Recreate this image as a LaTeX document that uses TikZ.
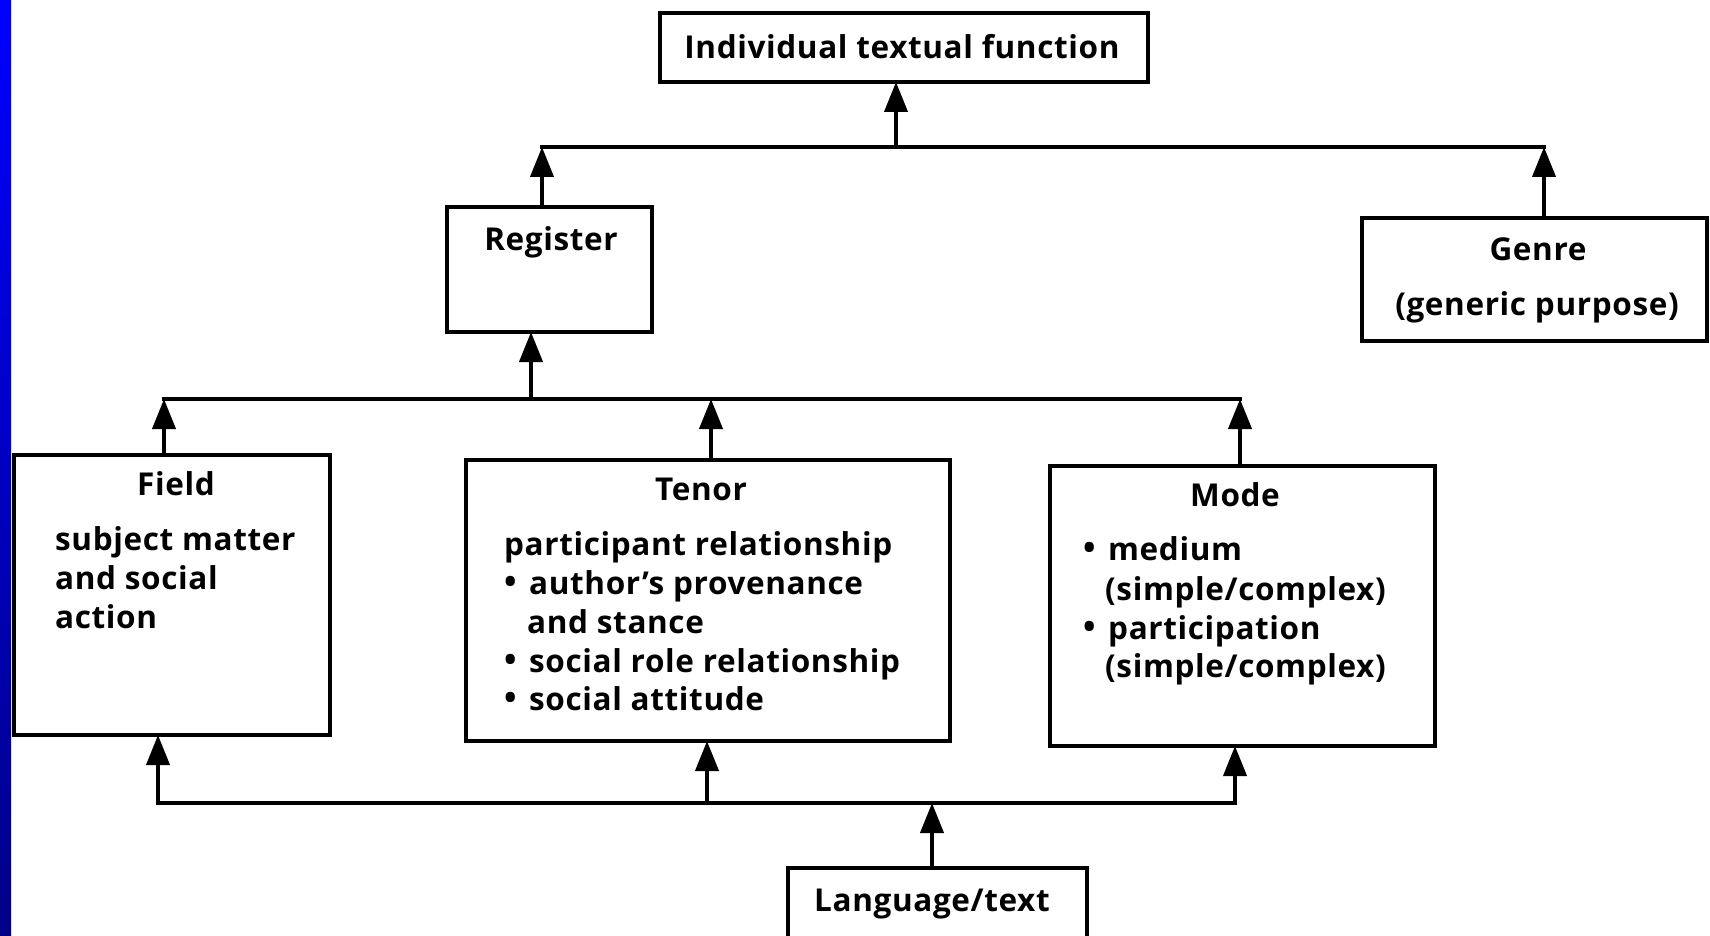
\documentclass[tikz,border=0pt]{standalone}
\usepackage{fontspec}
\setmainfont{Open Sans}[LetterSpace=2]
\usetikzlibrary{arrows.meta}
\definecolor{navy}{RGB}{0,0,135}
\newcommand{\smallbullet}{\raisebox{0.02em}{\scalebox{1.05}{\textbullet}}}
\tikzset{
  box/.style={draw, line width=3.5pt, inner sep=0pt, outer sep=0pt, rectangle},
  bar/.style={line width=4pt, line cap=rect},
  arr/.style={line width=4pt, -{Triangle[length=30pt,width=23pt]}},
  txt/.style={inner sep=0pt, font=\fontsize{31.5}{36}\selectfont\bfseries},
  ttl/.style={txt, anchor=base},
  ln/.style={txt, anchor=base west},
}
\begin{document}
\begin{tikzpicture}[x=1pt,y=-1pt]
\useasboundingbox (0,0) rectangle (1710,936);
\fill[white] (0,0) rectangle (1710,936);
\shade[top color=blue, bottom color=navy] (0,0) rectangle (11,936);
% boxes
\node[box, minimum width=488pt, minimum height=69pt] (itf) at (904,47.5) {};
\node[box, minimum width=205pt, minimum height=125pt] (reg) at (549.5,269.5) {};
\node[box, minimum width=345pt, minimum height=123pt] (genre) at (1534.5,279.5) {};
\node[box, minimum width=316pt, minimum height=280pt] (field) at (172,595) {};
\node[box, minimum width=484pt, minimum height=281pt] (tenor) at (708,600.5) {};
\node[box, minimum width=385pt, minimum height=280pt] (mode) at (1242.5,606) {};
\node[box, minimum width=299pt, minimum height=76pt] (lang) at (937.5,906) {};
% texts
\node[ttl] (titf) at (902,59) {Individual textual function};
\node[ttl] (treg) at (551,251) {Register};
\node[ttl] (tgen) at (1538,260) {Genre};
\node[ttl] (tgen2) at (1537,315) {(generic purpose)};
\node[ttl] (tfield) at (176,495) {Field};
\node[ln] (f1) at (55,550) {subject matter};
\node[ln] (f2) at (55,589) {and social};
\node[ln] (f3) at (55,628) {action};
\node[ttl] (tten) at (701,500) {Tenor};
\node[ln] (t1) at (504,555) {participant relationship};
\node[ln] (t2b) at (504,594) {\smallbullet};
\node[ln] (t2) at (529,594) {author’s provenance};
\node[ln] (t3) at (527,633) {and stance};
\node[ln] (t4b) at (504,672) {\smallbullet};
\node[ln] (t4) at (529,672) {social role relationship};
\node[ln] (t5b) at (504,710) {\smallbullet};
\node[ln] (t5) at (529,710) {social attitude};
\node[ttl] (tmode) at (1235,506) {Mode};
\node[ln] (m1b) at (1083,560) {\smallbullet};
\node[ln] (m1) at (1108,560) {medium};
\node[ln] (m2) at (1105,600) {(simple/complex)};
\node[ln] (m3b) at (1083,639) {\smallbullet};
\node[ln] (m3) at (1108,639) {participation};
\node[ln] (m4) at (1105,677) {(simple/complex)};
\node[ttl] (tlang) at (932,911) {Language/text};
% connector points
\coordinate (tA) at (542,147);
\coordinate (tB) at (1544,147);
\coordinate (tC) at (896,147);
\coordinate (mA) at (164,399);
\coordinate (mB) at (1240,399);
\coordinate (mT) at (711,399);
\coordinate (mR) at (531,399);
\coordinate (bA) at (158,803);
\coordinate (bB) at (1235,803);
\coordinate (bT) at (707,803);
\coordinate (bL) at (932,803);
% top level
\draw[bar] (tA) -- (tB);
\draw[arr] (tC) -- (itf.south -| tC);
\draw[arr] (reg.north -| tA) -- (tA);
\draw[arr] (genre.north -| tB) -- (tB);
% middle level
\draw[bar] (mA) -- (mB);
\draw[arr] (mR) -- (reg.south -| mR);
\draw[arr] (field.north -| mA) -- (mA);
\draw[arr] (tenor.north -| mT) -- (mT);
\draw[arr] (mode.north -| mB) -- (mB);
% bottom level
\draw[bar] (bA) -- (bB);
\draw[arr, line cap=rect] (bA) -- (field.south -| bA);
\draw[arr] (bT) -- (tenor.south -| bT);
\draw[arr, line cap=rect] (bB) -- (mode.south -| bB);
\draw[arr] (lang.north -| bL) -- (bL);
\end{tikzpicture}
\end{document}
